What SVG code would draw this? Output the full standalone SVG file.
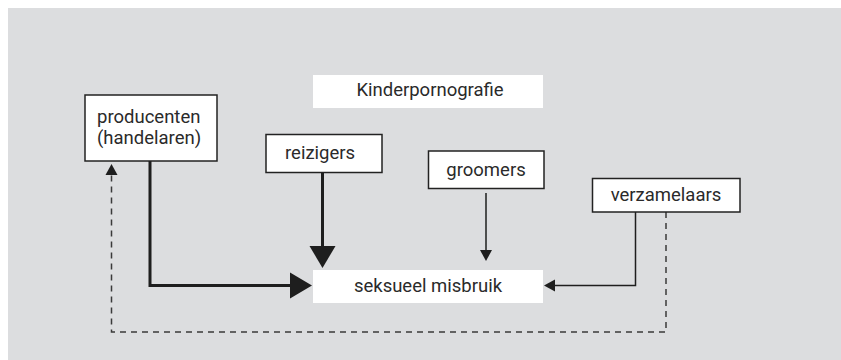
<svg xmlns="http://www.w3.org/2000/svg" width="841" height="360" viewBox="0 0 841 360">
  <style>
    .bg { fill: #dcdddf; }
    .box { fill: #ffffff; stroke: #222222; stroke-width: 1.5; }
    .plain { fill: #ffffff; }
    .lbl { font-family: Roboto, "Liberation Sans", Arial, sans-serif; font-size: 18.5px; fill: #2a2a2a; }
    .mid { text-anchor: middle; }
    .thick { fill: none; stroke: #1e1e1e; stroke-width: 3; }
    .thin { fill: none; stroke: #1e1e1e; stroke-width: 1.5; }
    .dash { fill: none; stroke: #3a3a3a; stroke-width: 1.5; stroke-dasharray: 6 5; }
  </style>
  <defs>
    <marker id="bigHead" markerUnits="userSpaceOnUse" markerWidth="22" markerHeight="26" refX="0" refY="13" orient="auto" overflow="visible">
      <path d="M0,0 L22,13 L0,26 z" fill="#1e1e1e"/>
    </marker>
    <marker id="smallHead" markerUnits="userSpaceOnUse" markerWidth="11" markerHeight="12" refX="0" refY="6" orient="auto" overflow="visible">
      <path d="M0,0 L11,6 L0,12 z" fill="#1e1e1e"/>
    </marker>
  </defs>

  <rect class="bg" x="8" y="8" width="833" height="352"/>

  <g id="connectors">
    <!-- producenten -> seksueel misbruik -->
    <path class="thick" d="M150,161 V285.5 H290" marker-end="url(#bigHead)"/>
    <!-- reizigers -> seksueel misbruik -->
    <path class="thick" d="M322.5,172 V246" marker-end="url(#bigHead)"/>
    <!-- groomers -> seksueel misbruik -->
    <path class="thin" d="M486,193 V250" marker-end="url(#smallHead)"/>
    <!-- verzamelaars -> seksueel misbruik -->
    <path class="thin" d="M635.5,212 V285.5 H555" marker-end="url(#smallHead)"/>
    <!-- verzamelaars -> producenten (dashed feedback) -->
    <path class="dash" d="M666,212 V332 H111.5 V175" marker-end="url(#smallHead)"/>
  </g>

  <g id="kinderpornografie">
    <rect class="plain" x="313" y="75" width="230" height="33"/>
    <text class="lbl mid" x="430" y="96">Kinderpornografie</text>
  </g>

  <g id="producenten">
    <rect class="box" x="85" y="95" width="132" height="66"/>
    <text class="lbl" x="97" y="123">producenten</text>
    <text class="lbl" x="97" y="144">(handelaren)</text>
  </g>

  <g id="reizigers">
    <rect class="box" x="266" y="134.5" width="116" height="38"/>
    <text class="lbl" x="285" y="159">reizigers</text>
  </g>

  <g id="groomers">
    <rect class="box" x="428.5" y="151" width="115.5" height="37.5"/>
    <text class="lbl mid" x="486" y="175.5">groomers</text>
  </g>

  <g id="verzamelaars">
    <rect class="box" x="592.5" y="178.5" width="147.5" height="33.5"/>
    <text class="lbl mid" x="666" y="200.5">verzamelaars</text>
  </g>

  <g id="seksueel-misbruik">
    <rect class="plain" x="313" y="270" width="230" height="33"/>
    <text class="lbl mid" x="428" y="291.5">seksueel misbruik</text>
  </g>
</svg>
